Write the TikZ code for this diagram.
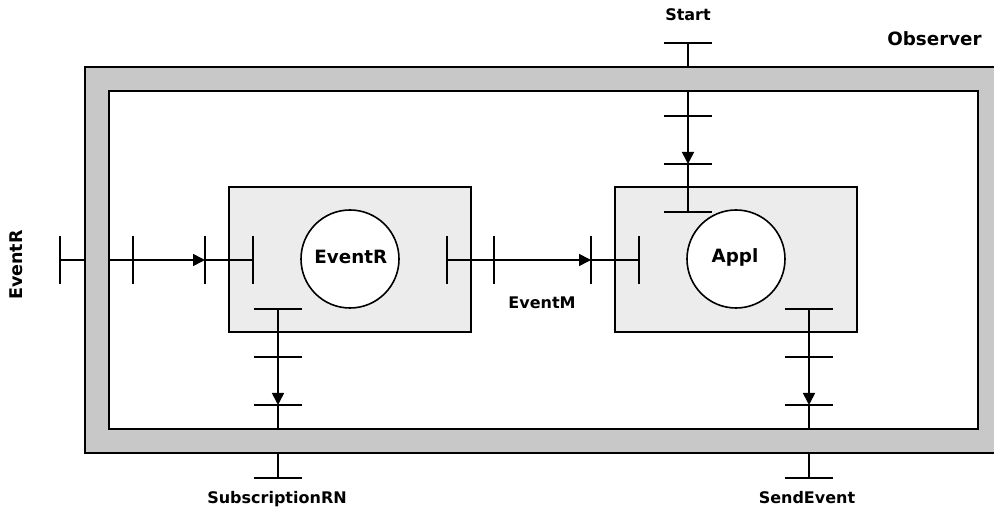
\documentclass[tikz,border=0pt]{standalone}
\usepackage{fontspec}
\setmainfont{DejaVu Sans}
\usetikzlibrary{arrows.meta}
\definecolor{framegray}{RGB}{200,200,200}
\definecolor{boxgray}{RGB}{236,236,236}
\newcommand\vtick[1]{\draw[tk] ([yshift=24pt]#1) -- ([yshift=-24pt]#1);}
\newcommand\htick[1]{\draw[tk] ([xshift=-24pt]#1) -- ([xshift=24pt]#1);}
\begin{document}
\begin{tikzpicture}[x=1pt,y=-1pt,
  ln/.style={line width=1.6pt},
  tk/.style={line width=1.8pt},
  arr/.style={ln,-{Triangle[length=12pt,width=12pt]}},
  lbl/.style={font=\bfseries\fontsize{16}{19}\selectfont, inner sep=0pt, anchor=base},
  big/.style={font=\bfseries\fontsize{18.3}{21}\selectfont, inner sep=0pt, anchor=base},
  comp/.style={draw, line width=1.6pt, fill=boxgray},
  circ/.style={draw, line width=1.6pt, fill=white, circle, minimum size=98pt, inner sep=0pt},
]
\useasboundingbox (0,0) rectangle (994,510);
\clip (0,0) rectangle (994,510);
% frame
\draw[line width=1.6pt, fill=framegray] (85,67) rectangle (1003,453);
\draw[line width=1.6pt, fill=white] (109,91) rectangle (978,429);
% component boxes
\draw[comp] (229,187) rectangle (471,332);
\draw[comp] (615,187) rectangle (857,332);
\node[circ] (cEventR) at (350,259) {};
\node[circ] (cAppl) at (736,259) {};
\node[big] (tEventR) at (350.8,263.3) {EventR};
\node[big] (tAppl) at (735,262.7) {Appl};
% EventR port chain
\coordinate (er0) at (60,260);
\coordinate (er1) at (85,260);
\coordinate (er2) at (109,260);
\coordinate (er3) at (133,260);
\coordinate (er4) at (205,260);
\coordinate (er5) at (253,260);
\draw[ln] (er0) -- (er1);
\draw[ln] (er2) -- (er3);
\draw[arr] (er3) -- (er4);
\draw[ln] (er4) -- (er5);
\foreach \p in {er0,er3,er4,er5} {\vtick{\p}}
% EventM chain
\coordinate (em1) at (447,260);
\coordinate (em2) at (494,260);
\coordinate (em3) at (591,260);
\coordinate (em4) at (639,260);
\draw[ln] (em1) -- (em2);
\draw[arr] (em2) -- (em3);
\draw[ln] (em3) -- (em4);
\foreach \p in {em1,em2,em3,em4} {\vtick{\p}}
% Start chain
\coordinate (st0) at (688,43);
\coordinate (st1) at (688,67);
\coordinate (st2) at (688,91);
\coordinate (st3) at (688,116);
\coordinate (st4) at (688,164);
\coordinate (st5) at (688,212);
\draw[ln] (st0) -- (st1);
\draw[ln] (st2) -- (st3);
\draw[arr] (st3) -- (st4);
\draw[ln] (st4) -- (st5);
\foreach \p in {st0,st3,st4,st5} {\htick{\p}}
% SubscriptionRN chain
\coordinate (sb1) at (278,309);
\coordinate (sb2) at (278,357);
\coordinate (sb3) at (278,405);
\coordinate (sb4) at (278,429);
\coordinate (sb5) at (278,453);
\coordinate (sb6) at (278,478);
\draw[ln] (sb1) -- (sb2);
\draw[arr] (sb2) -- (sb3);
\draw[ln] (sb3) -- (sb4);
\draw[ln] (sb5) -- (sb6);
\foreach \p in {sb1,sb2,sb3,sb6} {\htick{\p}}
% SendEvent chain
\coordinate (se1) at (809,309);
\coordinate (se2) at (809,357);
\coordinate (se3) at (809,405);
\coordinate (se4) at (809,429);
\coordinate (se5) at (809,453);
\coordinate (se6) at (809,478);
\draw[ln] (se1) -- (se2);
\draw[arr] (se2) -- (se3);
\draw[ln] (se3) -- (se4);
\draw[ln] (se5) -- (se6);
\foreach \p in {se1,se2,se3,se6} {\htick{\p}}
% labels
\node[lbl] (lStart) at (688,21) {Start};
\node[big] (lObserver) at (934.5,45.7) {Observer};
\node[lbl] (lEventM) at (542,309) {EventM};
\node[lbl] (lSub) at (277,503.3) {SubscriptionRN};
\node[lbl] (lSend) at (807,503.3) {SendEvent};
\node[lbl, rotate=90, font=\bfseries\fontsize{17.5}{20}\selectfont] (lEventR) at (23,265) {EventR};
\end{tikzpicture}
\end{document}
